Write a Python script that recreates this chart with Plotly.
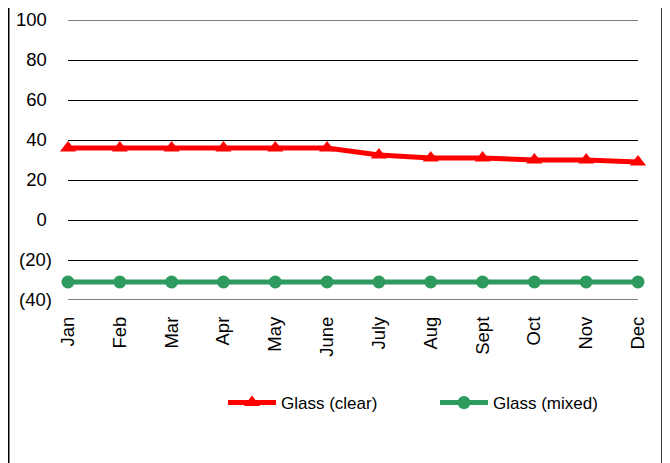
import plotly.graph_objects as go

months = ["Jan", "Feb", "Mar", "Apr", "May", "June", "July", "Aug", "Sept", "Oct", "Nov", "Dec"]
glass_clear = [36, 36, 36, 36, 36, 36, 32.5, 31, 31, 30, 30, 29]
glass_mixed = [-31] * 12
y_ticks = [100, 80, 60, 40, 20, 0, -20, -40]
# accounting-style labels: positives padded so digits line up with "(20)"
y_tick_text = ["100\u00a0", "80\u00a0", "60\u00a0", "40\u00a0", "20\u00a0", "0\u00a0", "(20)", "(40)"]

FAM = "Liberation Sans, Arial, sans-serif"
AX_FONT = dict(family=FAM, size=18.5, color="black")
LEG_FONT = dict(family=FAM, size=17, color="black")

fig = go.Figure()
fig.add_trace(go.Scatter(
    x=list(range(len(months))), y=glass_clear, name="Glass (clear)",
    mode="lines+markers", line=dict(color="#ff0000", width=5),
    marker=dict(symbol="triangle-up", size=14, color="#ff0000"),
    cliponaxis=False,
))
fig.add_trace(go.Scatter(
    x=list(range(len(months))), y=glass_mixed, name="Glass (mixed)",
    mode="lines+markers", line=dict(color="#2e9a5e", width=5),
    marker=dict(symbol="circle", size=13, color="#2e9a5e"),
    cliponaxis=False,
))

# The page body has an 8px margin, so the figure is drawn 8px smaller and
# all reference pixel positions are shifted by OFF.
OFF = 8
W, H = 670 - OFF, 463 - OFF
L, R, T, B = 68 - OFF, 32, 20 - OFF, 163
pw, ph = W - L - R, H - T - B

def px(xp):
    return (xp - OFF - L) / pw

def py(yp):
    return (H - B - (yp - OFF)) / ph

edge_lines = [dict(type="line", xref="paper", yref="y", x0=0, x1=1,
                   y0=v, y1=v, line=dict(color="black", width=1), layer="below")
              for v in (y_ticks[0], y_ticks[-1])]

frame = [dict(type="line", xref="paper", yref="paper", x0=xv, x1=xv,
              y0=py(-5), y1=py(470), line=dict(color="black", width=1.5))
         for xv in (px(OFF + 0.75), px(662))]

fig.update_layout(
    width=W, height=H,
    margin=dict(l=L, r=R, t=T, b=B, pad=0, autoexpand=False),
    paper_bgcolor="white", plot_bgcolor="white",
    font=LEG_FONT,
    showlegend=True,
    legend=dict(
        orientation="h", x=px(223), xanchor="left", y=py(403), yanchor="middle",
        font=LEG_FONT, entrywidth=149, entrywidthmode="pixels",
        bgcolor="rgba(0,0,0,0)", itemwidth=48,
    ),
    xaxis=dict(
        range=[0, 11], tickmode="array", tickvals=list(range(len(months))),
        ticktext=months, tickangle=-90, showgrid=False, zeroline=False,
        showline=False, ticks="", tickfont=AX_FONT, ticklabelstandoff=12,
        automargin=False,
    ),
    yaxis=dict(
        range=[-40, 100], tickmode="array", tickvals=y_ticks, ticktext=y_tick_text,
        showgrid=True, gridcolor="#000000", gridwidth=1, zeroline=False,
        showline=False, ticks="", tickfont=AX_FONT, ticklabelstandoff=15,
        automargin=False,
    ),
    shapes=edge_lines + frame,
)

fig.write_html("out.html")
